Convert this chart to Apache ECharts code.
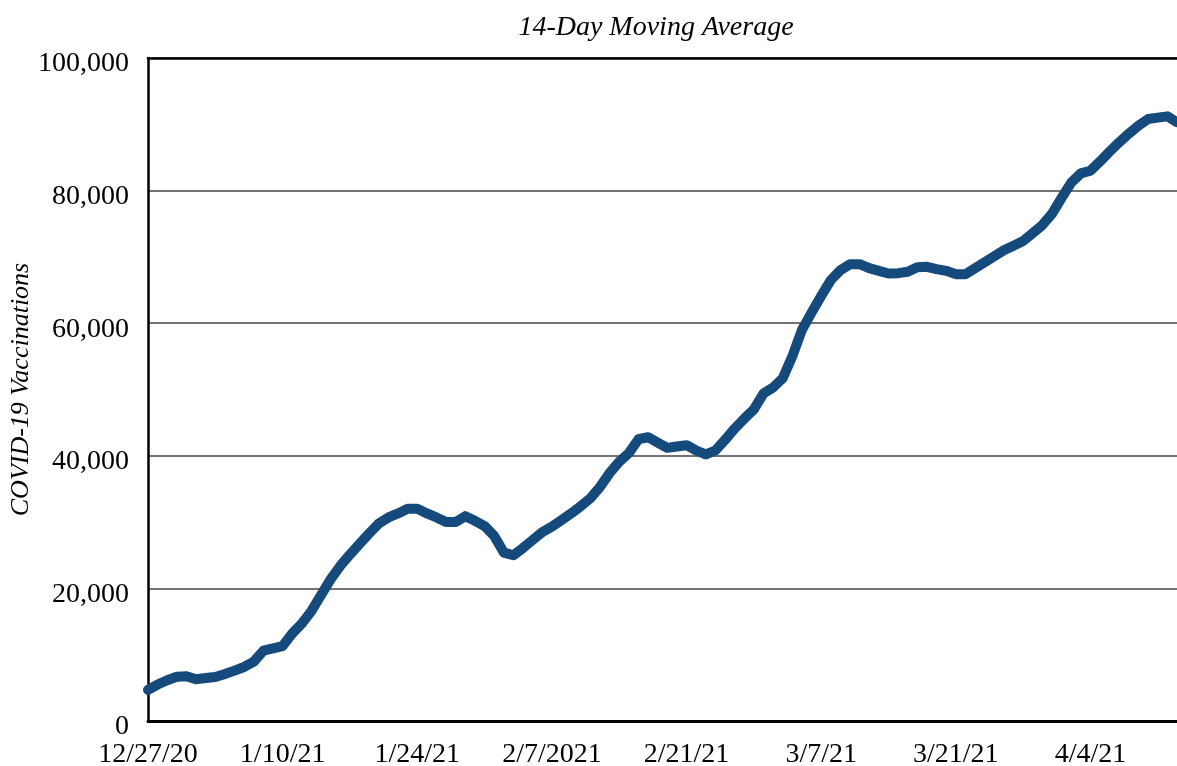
<!DOCTYPE html>
<html>
<head>
<meta charset="utf-8">
<script src="https://cdn.jsdelivr.net/npm/echarts@6/dist/echarts.min.js"></script>
<style>
  html, body { margin: 0; padding: 0; background: #ffffff; }
  #chart { width: 1177px; height: 766px; }
</style>
</head>
<body>
<div id="chart"></div>
<script>
// ---- Data ----
const startDate = '2020-12-27';
const tickLabels = ['12/27/20', '1/10/21', '1/24/21', '2/7/2021', '2/21/21', '3/7/21', '3/21/21', '4/4/21'];
const vaccinations = [
  4700, 5500, 6150, 6670, 6750, 6300, 6480, 6640, 7100, 7600,
  8150, 8950, 10600, 10950, 11300, 13200, 14700, 16600, 19000, 21400,
  23400, 25100, 26700, 28300, 29800, 30700, 31300, 32000, 32000, 31300,
  30700, 30000, 30000, 30900, 30200, 29400, 27900, 25400, 25000, 26100,
  27300, 28500, 29300, 30300, 31300, 32400, 33600, 35300, 37400, 39100,
  40400, 42500, 42800, 42000, 41200, 41400, 41600, 40800, 40200, 40800,
  42400, 44100, 45600, 47000, 49400, 50300, 51700, 55000, 59000, 61600,
  64100, 66500, 68000, 68900, 68900, 68300, 67900, 67500, 67550, 67750,
  68450, 68500, 68150, 67900, 67400, 67400, 68300, 69200, 70100, 71000,
  71700, 72400, 73600, 74800, 76500, 78900, 81200, 82600, 83000, 84400,
  85900, 87300, 88600, 89800, 90800, 91000, 91200, 90300
];
const yTicks = [0, 20000, 40000, 60000, 80000, 100000];

// category labels (one per day)
const categories = [];
{
  const d0 = new Date(startDate + 'T00:00:00Z');
  for (let i = 0; i < vaccinations.length; i++) {
    const d = new Date(d0.getTime() + i * 86400000);
    categories.push((d.getUTCMonth() + 1) + '/' + d.getUTCDate() + '/' + String(d.getUTCFullYear()).slice(2));
  }
}

const serif = '"Liberation Serif", "DejaVu Serif", serif';

const chart = echarts.init(document.getElementById('chart'), null, { renderer: 'canvas' });
chart.setOption({
  animation: false,
  backgroundColor: '#ffffff',
  title: {
    text: '14-Day Moving Average',
    left: 651,
    top: 9,
    textAlign: 'center',
    textStyle: { fontFamily: serif, fontStyle: 'italic', fontWeight: 'normal', fontSize: 28, color: '#000' }
  },
  grid: { left: 148, right: 0, top: 58, bottom: 45, containLabel: false, outerBoundsMode: 'none' },
  xAxis: [{
    type: 'category',
    data: categories,
    boundaryGap: false,
    axisLine: { show: true, lineStyle: { color: '#000', width: 3 } },
    axisTick: { show: false },
    splitLine: { show: false },
    axisLabel: {
      interval: 0,
      margin: 20,
      color: '#000',
      fontFamily: serif,
      fontSize: 28,
      formatter: function (val, idx) { return idx % 14 === 0 ? (tickLabels[idx / 14] || '') : ''; }
    }
  }, {
    type: 'category',
    position: 'top',
    data: categories,
    boundaryGap: false,
    axisLine: { show: true, lineStyle: { color: '#000', width: 2.5 } },
    axisTick: { show: false },
    axisLabel: { show: false }
  }],
  yAxis: {
    type: 'value',
    min: yTicks[0],
    max: yTicks[yTicks.length - 1],
    interval: yTicks[1] - yTicks[0],
    name: 'COVID-19 Vaccinations',
    nameLocation: 'middle',
    nameRotate: 90,
    nameGap: 114,
    nameMoveOverlap: false,
    nameTextStyle: { fontFamily: serif, fontStyle: 'italic', fontSize: 26, color: '#000' },
    axisLine: { show: true, lineStyle: { color: '#000', width: 2.5 } },
    axisTick: { show: false },
    splitLine: { show: true, lineStyle: { color: '#444', width: 1.5 } },
    axisLabel: {
      margin: 19,
      color: '#000',
      fontFamily: serif,
      fontSize: 28,
      verticalAlign: 'top',
      lineHeight: 12,
      formatter: function (v) { return v.toLocaleString('en-US'); }
    }
  },
  series: [{
    type: 'line',
    data: vaccinations,
    xAxisIndex: 0,
    symbol: 'none',
    smooth: false,
    lineStyle: { color: '#154a7c', width: 10, cap: 'round', join: 'round' }
  }]
});
</script>
</body>
</html>
